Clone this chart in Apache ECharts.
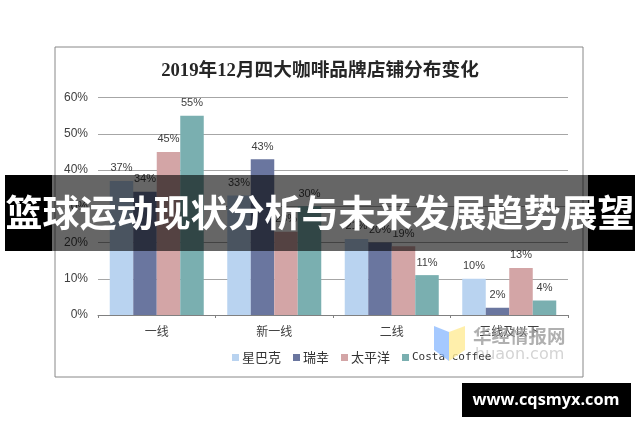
<!DOCTYPE html>
<html lang="zh-CN">
<head>
<meta charset="UTF-8">
<title>四大咖啡品牌店铺分布变化</title>
<script src="https://cdn.jsdelivr.net/npm/echarts@6/dist/echarts.min.js"></script>
<style>
html, body { margin: 0; padding: 0; background: #fff; }
#main { width: 640px; height: 426px; }
</style>
</head>
<body>
<div id="main"></div>
<script>
var categories = ['一线', '新一线', '二线', '三线及以下'];
var yTicks = [0, 10, 20, 30, 40, 50, 60];
var starbucks = [37, 33, 21, 10];
var luckin = [34, 43, 20, 2];
var pacific = [45, 23, 19, 13];
var costa = [55, 30, 11, 4];

var seriesNames = ['星巴克', '瑞幸', '太平洋', 'Costa coffee'];
var seriesValues = [starbucks, luckin, pacific, costa];
var seriesColors = ['#b9d3f0', '#6a769f', '#d3a5a6', '#7aafb0'];

var CJK = '"Noto Sans CJK SC", sans-serif';

var myChart = echarts.init(document.getElementById('main'), null, { renderer: 'canvas' });

var option = {
	backgroundColor: '#fff',
	animation: false,
	title: {
		text: '2019年12月四大咖啡品牌店铺分布变化',
		left: 319,
		top: 57,
		textAlign: 'center',
		textStyle: {
			color: '#262626',
			fontSize: 18.7,
			fontWeight: 'bold',
			fontFamily: '"Liberation Serif", "Noto Sans CJK SC", serif'
		}
	},
	legend: {
		left: 227,
		top: 346,
		itemWidth: 7,
		itemHeight: 7,
		itemGap: 12,
		icon: 'rect',
		data: seriesNames,
		formatter: function (name) {
			return /[a-z]/i.test(name) ? name : '{cjk|' + name + '}';
		},
		textStyle: {
			color: '#333',
			fontSize: 11,
			fontFamily: '"DejaVu Sans Mono", monospace',
			padding: [0, 0, 0, -2],
			rich: {
				cjk: { fontSize: 13, fontFamily: CJK, color: '#333' }
			}
		}
	},
	grid: { left: 98, right: 72, top: 97.5, bottom: 111 },
	xAxis: {
		type: 'category',
		data: categories,
		axisLine: { lineStyle: { color: '#808080', width: 1 } },
		axisTick: { show: true, length: 3, lineStyle: { color: '#808080' } },
		axisLabel: { color: '#404040', fontSize: 12, margin: 10, fontFamily: CJK }
	},
	yAxis: {
		type: 'value',
		min: yTicks[0],
		max: yTicks[yTicks.length - 1],
		interval: 10,
		axisLine: { show: false },
		axisTick: { show: false },
		axisLabel: {
			color: '#404040',
			fontSize: 12,
			margin: 10,
			fontFamily: '"Liberation Sans", sans-serif',
			formatter: '{value}%'
		},
		splitLine: { lineStyle: { color: '#a6a6a6', width: 1 } }
	},
	series: seriesNames.map(function (name, i) {
		return {
			name: name,
			type: 'bar',
			data: seriesValues[i],
			barGap: 0,
			barCategoryGap: '20%',
			itemStyle: { color: seriesColors[i] },
			label: {
				show: true,
				position: 'top',
				distance: 7,
				color: '#404040',
				fontSize: 11,
				fontFamily: '"Liberation Sans", sans-serif',
				formatter: '{c}%'
			}
		};
	}),
	graphic: [
		// chart frame
		{ type: 'rect', z: 50, shape: { x: 55, y: 47, width: 528, height: 330 },
			style: { fill: 'none', stroke: '#888', lineWidth: 1 } },
		// watermark
		{ type: 'polygon', z: 60, shape: { points: [[434, 326], [449, 332], [449, 361], [434, 350]] },
			style: { fill: 'rgba(130,180,255,0.72)' } },
		{ type: 'polygon', z: 60, shape: { points: [[449, 332], [465, 326], [465, 350], [449, 361]] },
			style: { fill: 'rgba(255,235,150,0.8)' } },
		{ type: 'text', z: 60, style: { x: 473, y: 336, text: '华经情报网', fill: 'rgba(150,150,150,0.75)',
			font: 'bold 18.5px "Noto Sans CJK SC"', textVerticalAlign: 'middle' } },
		{ type: 'text', z: 60, style: { x: 475, y: 355, text: 'huaon.com', fill: 'rgba(170,170,170,0.5)',
			font: '16px "DejaVu Sans"', textVerticalAlign: 'middle' } },
		// banner across the middle
		{ type: 'rect', z: 70, shape: { x: 5, y: 175, width: 47, height: 76 }, style: { fill: '#000' } },
		{ type: 'rect', z: 70, shape: { x: 588, y: 175, width: 47, height: 76 }, style: { fill: '#000' } },
		{ type: 'rect', z: 70, shape: { x: 52, y: 175, width: 536, height: 76 }, style: { fill: 'rgba(0,0,0,0.6)' } },
		{ type: 'text', z: 71, style: { x: 320, y: 213, text: '篮球运动现状分析与未来发展趋势展望', fill: '#fff',
			font: 'bold 37px "Noto Sans CJK SC"', textAlign: 'center', textVerticalAlign: 'middle' } },
		// site tag bottom right
		{ type: 'rect', z: 70, shape: { x: 462, y: 383, width: 169, height: 34 }, style: { fill: '#000' } },
		{ type: 'text', z: 71, style: { x: 546, y: 400, text: 'www.cqsmyx.com', fill: '#fff',
			font: 'bold 16.3px "Open Sans"', textAlign: 'center', textVerticalAlign: 'middle' } }
	]
};

option.title.left = 315;

myChart.setOption(option);
</script>
</body>
</html>
